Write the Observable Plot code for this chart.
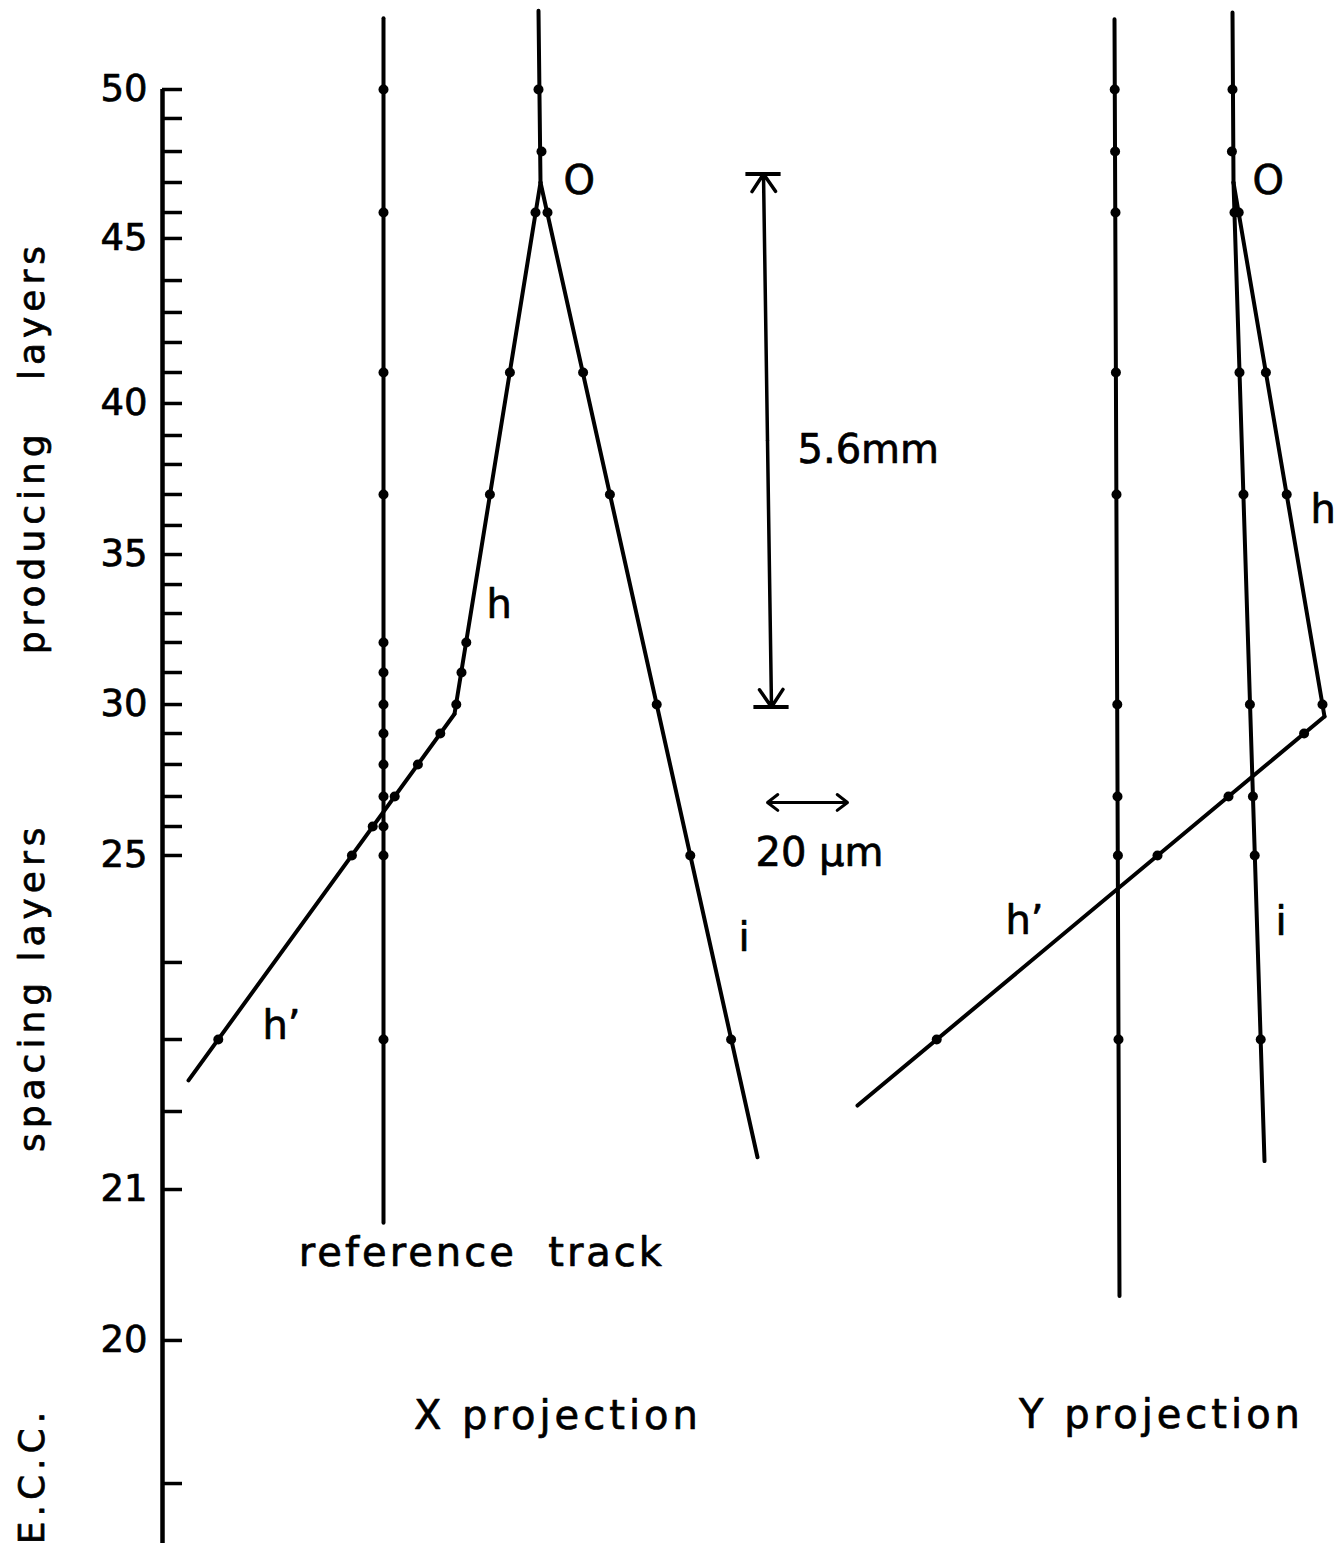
<!DOCTYPE html>
<html>
<head>
<meta charset="utf-8">
<script src="https://cdn.jsdelivr.net/npm/d3@7"></script>
<script src="https://cdn.jsdelivr.net/npm/@observablehq/plot@0.6"></script>
<style>
  html, body { margin: 0; padding: 0; background: #fff; }
  #chart svg { display: block; }
</style>
</head>
<body>
<div id="chart"></div>
<script>
// ---------- DATA ----------
// Emulsion layer numbers and their depth (mm, measured downward from layer 50)
const layerNumbers = [50,49,48,47,46,45,44,43,42,41,40,39,38,37,36,35,34,33,32,31,30,29,28,27,26,25,24,23,22,21,20,19];
const layerDepthMm = [0,0.305,0.653,0.979,1.295,1.568,2.011,2.347,2.663,2.979,3.305,3.642,3.947,4.263,4.589,4.895,5.211,5.516,5.821,6.137,6.474,6.779,7.105,7.442,7.758,8.063,9.189,10.0,10.758,11.579,13.168,14.674];
// Labelled layers on the axis
const labeledLayers = [50,45,40,35,30,25,21,20];
const tickLabels = ["50","45","40","35","30","25","21","20"];

// Projections: X and Y; transverse position (µm) of each projection's reference track
const projectionNames = ["X projection","Y projection"];
const projectionRefUm = [55.25, 238.25];

// Track segments: [depth mm, transverse µm relative to the projection's reference track]
const trackXRef     = [[-0.75, 0], [11.93, 0]];
const trackXPrimary = [[-0.83, 38.75], [0.979, 39.25]];
const trackXH       = [[0.979, 39.25], [6.574, 17.75]];
const trackXHprime  = [[6.574, 17.75], [10.43, -48.75]];
const trackXI       = [[0.979, 39.25], [11.24, 93.5]];
const trackYRef     = [[-0.74, -0.25], [12.7, 1]];
const trackYPrimary = [[-0.81, 29.25], [0.979, 29.5]];
const trackYH       = [[0.979, 29.5], [6.6, 52.25]];
const trackYHprime  = [[6.6, 52.25], [10.695, -64.5]];
const trackYI       = [[0.979, 29.5], [11.28, 37.25]];

// Measured points (hits) in layers: [layer, transverse µm relative to reference track]
const hitsXRef     = [[50,0],[46,0],[41,0],[37,0],[32,0],[31,0],[30,0],[29,0],[28,0],[27,0],[26,0],[25,0],[23,0]];
const hitsXPrimary = [[50,38.75],[48,39.5]];
const hitsXH       = [[46,38],[41,31.6],[37,26.6],[32,20.7],[31,19.5],[30,18.2]];
const hitsXHprime  = [[29,14.2],[28,8.6],[27,2.8],[26,-2.7],[25,-7.9],[23,-41.3]];
const hitsXI       = [[46,41],[41,49.9],[37,56.6],[30,68.3],[25,76.7],[23,86.9]];
const hitsYRef     = [[50,-0.2],[48,-0.1],[46,0],[41,0.1],[37,0.25],[30,0.45],[27,0.5],[25,0.6],[23,0.75]];
const hitsYPrimary = [[50,29.25],[48,29.1]];
const hitsYH       = [[46,30.8],[41,37.6],[37,42.8],[30,51.75]];
const hitsYHprime  = [[29,47.15],[27,28.25],[25,10.5],[23,-44.7]];
const hitsYI       = [[46,29.75],[41,31],[37,32],[30,33.6],[27,34.35],[25,34.8],[23,36.3]];

// Track name labels
const trackLabelText  = ["O","h","h\u2019","i","O","h","h\u2019","i"];
const trackLabelProj  = [0,0,0,0,1,1,1,1];
const trackLabelDepth = [0.968,5.43,9.86,8.93,0.968,4.43,8.75,8.76];
const trackLabelUm    = [45,25.75,-30.25,88.75,34.25,48.75,-27.5,40];

// Scale bars (X projection coordinates)
const depthBarMm = [0.89, 6.5];      // 5.6 mm bar: top and bottom
const depthBarUm = [95, 97];
const depthBarLabel = "5.6mm";
const widthBarUm = [96, 116];        // 20 µm bar
const widthBarDepth = 7.505;
const widthBarLabel = "20 \u00b5m";

// Side labels for layer groups
const groupNames = ["producing\u00a0\u00a0\u00a0layers", "spacing\u00a0layers", "E.C.C."];
const groupDepth = [3.77, 9.45, 14.59];

// ---------- BUILD ----------
const W = 1341, H = 1543;
const depthOf = new Map(layerNumbers.map((l, i) => [l, layerDepthMm[i]]));

const lineRows = [];
const hitRows = [];
function addTrack(id, proj, seg, hits) {
  seg.forEach(([d, u]) => lineRows.push({id, depth: d, x: projectionRefUm[proj] + u}));
  hits.forEach(([l, u]) => hitRows.push({id, depth: depthOf.get(l), x: projectionRefUm[proj] + u}));
}
addTrack("X ref", 0, trackXRef, hitsXRef);
addTrack("X primary", 0, trackXPrimary, hitsXPrimary);
addTrack("X h", 0, trackXH, hitsXH);
addTrack("X h'", 0, trackXHprime, hitsXHprime);
addTrack("X i", 0, trackXI, hitsXI);
addTrack("Y ref", 1, trackYRef, hitsYRef);
addTrack("Y primary", 1, trackYPrimary, hitsYPrimary);
addTrack("Y h", 1, trackYH, hitsYH);
addTrack("Y h'", 1, trackYHprime, hitsYHprime);
addTrack("Y i", 1, trackYI, hitsYI);

const tickRows = layerNumbers.map((l, i) => ({layer: l, depth: layerDepthMm[i]}));
const tickLabelRows = labeledLayers.map((l, i) => ({depth: depthOf.get(l), label: tickLabels[i]}));
const trackLabelRows = trackLabelText.map((t, i) => ({
  text: t, depth: trackLabelDepth[i], x: projectionRefUm[trackLabelProj[i]] + trackLabelUm[i]
}));
const groupRows = groupNames.map((t, i) => ({text: t, depth: groupDepth[i]}));

const refX = projectionRefUm[0];
const barMidDepth = (depthBarMm[0] + depthBarMm[1]) / 2;
const barMidUm = (depthBarUm[0] + depthBarUm[1]) / 2;
const depthArrows = [
  {x1: refX + barMidUm, y1: barMidDepth, x2: refX + depthBarUm[0], y2: depthBarMm[0]},
  {x1: refX + barMidUm, y1: barMidDepth, x2: refX + depthBarUm[1], y2: depthBarMm[1]}
];
const depthBars = depthBarMm.map((d, i) => ({depth: d, x: refX + depthBarUm[i]}));
const widthMid = (widthBarUm[0] + widthBarUm[1]) / 2;
const widthArrows = widthBarUm.map(u => ({x1: refX + widthMid, y1: widthBarDepth, x2: refX + u, y2: widthBarDepth}));

const scaleText = [
  {text: depthBarLabel, x: refX + 103.5, depth: 3.8},
  {text: widthBarLabel, x: refX + 93, depth: 8.04}
];
const captionText = [
  {text: "reference\u00a0\u00a0track", x: refX + 24.6, depth: 12.25},
  {text: projectionNames[0], x: projectionRefUm[0] + 43.6, depth: 13.97},
  {text: projectionNames[1], x: projectionRefUm[1] + 11.5, depth: 13.95}
];

const yTop = -89 / 95, yBottom = (H - 89) / 95;
const ink = {fill: "#000", stroke: "#000", strokeWidth: 0.7};

const chart = Plot.plot({
  width: W,
  height: H,
  marginLeft: 162, marginRight: 0, marginTop: 0, marginBottom: 0,
  x: {domain: [0, (W - 162) / 4], axis: null},
  y: {domain: [yTop, yBottom], reverse: true, axis: null},
  style: {fontFamily: "'DejaVu Sans', sans-serif", background: "#fff", color: "#000", overflow: "visible"},
  marks: [
    // axis line
    Plot.ruleX([0], {y1: layerDepthMm[0], y2: yBottom, strokeWidth: 4.5}),
    // layer ticks (pointing right)
    Plot.tickY(tickRows, {y: "depth", insetRight: W - 162 - 20, strokeWidth: 3.5}),
    Plot.text(tickLabelRows, {y: "depth", text: "label", frameAnchor: "left", textAnchor: "end", dx: -15, fontSize: 37, ...ink}),
    // side group labels
    Plot.text(groupRows, {y: "depth", text: "text", frameAnchor: "left", textAnchor: "middle", dx: -130, rotate: -90, fontSize: 36, ...ink}),
    // tracks
    Plot.line(lineRows, {x: "x", y: "depth", z: "id", stroke: "#000", strokeWidth: 4, strokeLinecap: "round", strokeLinejoin: "round"}),
    Plot.dot(hitRows, {x: "x", y: "depth", r: 5, fill: "#000"}),
    // track labels
    Plot.text(trackLabelRows, {x: "x", y: "depth", text: "text", textAnchor: "start", fontSize: 40, ...ink}),
    // 5.6 mm scale
    Plot.arrow(depthArrows, {x1: "x1", y1: "y1", x2: "x2", y2: "y2", strokeWidth: 3.5, headLength: 9, headAngle: 68}),
    Plot.ruleY(depthBars, {y: "depth", x1: d => d.x - 4.4, x2: d => d.x + 4.4, strokeWidth: 4}),
    // 20 µm scale
    Plot.arrow(widthArrows, {x1: "x1", y1: "y1", x2: "x2", y2: "y2", strokeWidth: 3, headLength: 6.5, headAngle: 75}),
    // annotations
    Plot.text(scaleText, {x: "x", y: "depth", text: "text", textAnchor: "start", fontSize: 40, ...ink}),
    Plot.text(captionText, {x: "x", y: "depth", text: "text", textAnchor: "middle", fontSize: 40, ...ink})
  ]
});

// letter spacing of the drafted lettering
const spacing = new Map([
  [groupNames[0], 5], [groupNames[1], 5], [groupNames[2], 5],
  ["reference\u00a0\u00a0track", 3], [projectionNames[0], 4], [projectionNames[1], 4]
]);
chart.querySelectorAll("text").forEach(t => {
  const s = spacing.get(t.textContent);
  if (s) t.setAttribute("letter-spacing", s);
});

document.getElementById("chart").appendChild(chart);
</script>
</body>
</html>
